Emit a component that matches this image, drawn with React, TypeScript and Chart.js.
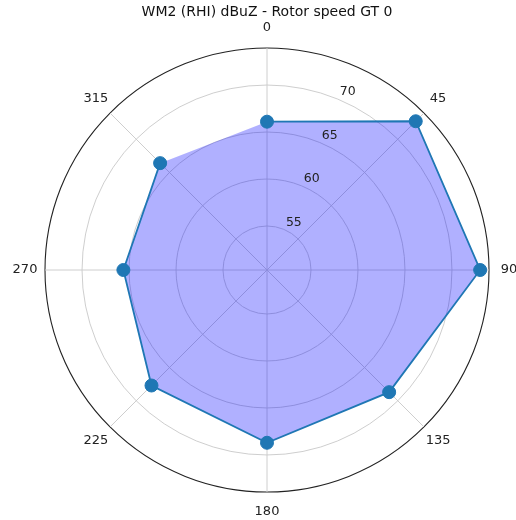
import React, { useEffect, useRef } from "react";
import { Chart, registerables } from "chart.js";

Chart.register(...registerables);

const categories = ["0", "45", "90", "135", "180", "225", "270", "315"];
const values = [66.1, 72.7, 73.0, 68.7, 68.7, 67.7, 65.6, 66.4];
const rTicks = [55, 60, 65, 70];
const rMin = 50.32;
const rMax = 73.94;
const titleText = "WM2 (RHI) dBuZ - Rotor speed GT 0";

const FONT = '"DejaVu Sans", sans-serif';

const polarPlugin = {
  id: "polarLabels",
  beforeDatasetDraw(chart: any, args: any) {
    if (args.index === 1) {
      const line = args.meta.dataset;
      line._loop = false;
      line._fullLoop = false;
      line._segments = undefined;
      line._path = undefined;
    }
  },
  afterDraw(chart: any) {
    const s = chart.scales.r;
    const ctx = chart.ctx;
    ctx.save();
    ctx.fillStyle = "#222";
    ctx.textAlign = "center";
    ctx.textBaseline = "middle";
    ctx.font = `13px ${FONT}`;
    categories.forEach((c, i) => {
      const p = s.getPointPosition(i, s.drawingArea + 20);
      ctx.fillText(c, p.x, p.y);
    });
    ctx.font = `12.5px ${FONT}`;
    const a = -Math.PI / 2 + Math.PI / 8;
    rTicks.forEach((v) => {
      const d = s.getDistanceFromCenterForValue(v);
      ctx.fillText(String(v), s.xCenter + Math.cos(a) * d + 10, s.yCenter + Math.sin(a) * d - 7);
    });
    ctx.restore();
  },
};

export default function App() {
  const ref = useRef<HTMLCanvasElement>(null);
  useEffect(() => {
    if (!ref.current) return;
    const chart = new Chart(ref.current, {
      type: "radar",
      data: {
        labels: categories,
        datasets: [
          {
            data: values,
            backgroundColor: "rgba(0,0,255,0.31)",
            borderWidth: 0,
            borderColor: "rgba(0,0,0,0)",
            pointRadius: 0,
            fill: "origin",
            order: 1,
          },
          {
            data: values,
            borderColor: "#1f77b4",
            borderWidth: 1.8,
            fill: false,
            pointRadius: 6.5,
            pointBackgroundColor: "#1f77b4",
            pointBorderColor: "#1f77b4",
            pointBorderWidth: 1,
            order: 0,
          },
        ],
      },
      options: {
        responsive: false,
        animation: false,
        layout: { padding: { top: 0, left: 45, right: 27, bottom: 28 } },
        plugins: {
          legend: { display: false },
          tooltip: { enabled: false },
          title: {
            display: true,
            text: titleText,
            color: "#111",
            font: { family: FONT, size: 14, weight: "normal" },
            padding: { top: 4, bottom: 27.2 },
          },
        },
        scales: {
          r: {
            min: rMin,
            max: rMax,
            afterBuildTicks: (scale: any) => {
              scale.ticks = [rMin, ...rTicks, rMax].map((v) => ({ value: v }));
            },
            ticks: { display: false },
            pointLabels: { display: false },
            grid: {
              circular: true,
              color: (ctx: any) => (ctx.tick && ctx.tick.value >= rMax - 0.001 ? "#222" : "#c8c8c8"),
              lineWidth: (ctx: any) => (ctx.tick && ctx.tick.value >= rMax - 0.001 ? 1.1 : 0.9),
            },
            angleLines: { display: true, color: "#c8c8c8", lineWidth: 0.9 },
          },
        },
      },
      plugins: [polarPlugin],
    } as any);
    return () => chart.destroy();
  }, []);
  return (
    <canvas
      ref={ref}
      width={516}
      height={520}
      style={{ position: "fixed", left: 0, top: 0, display: "block" }}
    />
  );
}
